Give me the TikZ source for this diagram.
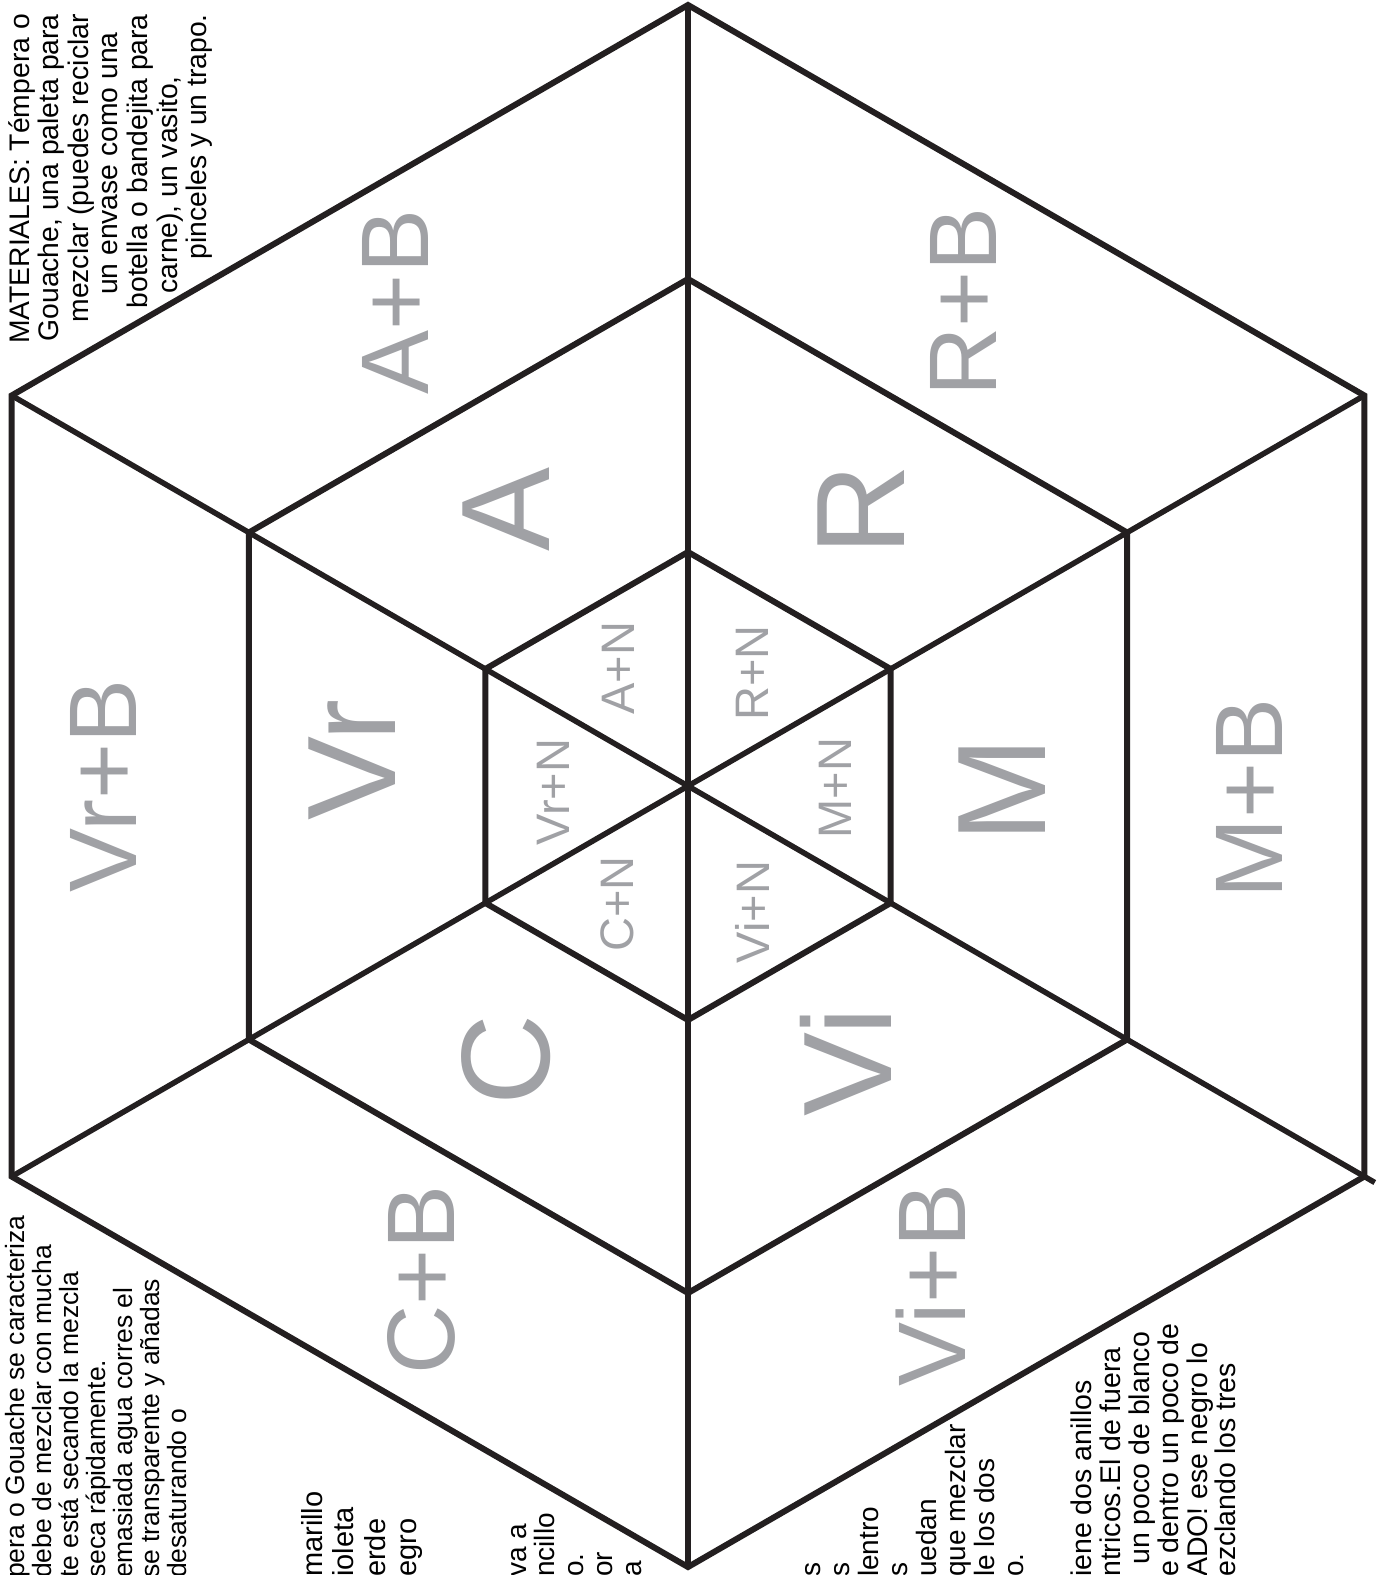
\documentclass[tikz,border=0pt]{standalone}
\usepackage{fontspec}
\setmainfont{Liberation Sans}

\definecolor{ink}{RGB}{35,31,32}
\definecolor{mixgray}{RGB}{160,161,165}

\begin{document}
\begin{tikzpicture}[x=1pt,y=-1pt,
  ring/.style={draw=ink,line width=6pt,line join=miter},
  spoke/.style={draw=ink,line width=5.5pt},
  mixbig/.style={rotate=90,inner sep=0pt,text=mixgray,font=\fontsize{96}{96}\selectfont},
  mixmain/.style={rotate=90,inner sep=0pt,text=mixgray,font=\fontsize{126}{126}\selectfont},
  mixdark/.style={rotate=90,inner sep=0pt,text=mixgray,font=\fontsize{47}{47}\selectfont},
  note/.style={rotate=90,inner sep=0pt,text=black}]
\useasboundingbox (0,0) rectangle (1385,1575);
\clip (0,0) rectangle (1385,1575);
% three hexagons round the same centre
\begin{scope}[shift={(688,786)}]
\foreach \k/\ang in {1/-90,2/-30,3/30,4/90,5/150,6/210} {
  \coordinate (o\k) at (\ang:781);
  \coordinate (m\k) at (\ang:507);
  \coordinate (i\k) at (\ang:234);
}
\end{scope}
\draw[ring] (o1) -- (o2) -- (o3) -- (o4) -- (o5) -- (o6) -- cycle;
\draw[ring] (m1) -- (m2) -- (m3) -- (m4) -- (m5) -- (m6) -- cycle;
\draw[ring] (i1) -- (i2) -- (i3) -- (i4) -- (i5) -- (i6) -- cycle;
\draw[spoke] (o1) -- (o4);
\draw[spoke] (o2) -- (o5);
\draw[spoke,shorten >=-12pt] (o6) -- (o3);
% outer ring: colour + white
\node[mixbig] (ab) at (395,302) {A+B};
\node[mixbig] (rb) at (963,302) {R+B};
\node[mixbig] (vrb) at (103,786) {Vr+B};
\node[mixbig] (mb) at (1249,798) {M+B};
\node[mixbig] (cb) at (421,1280) {C+B};
\node[mixbig] (vib) at (931,1285) {Vi+B};
% middle ring: pure colours
\node[mixmain] (a) at (506,509) {A};
\node[mixmain] (r) at (861,510) {R};
\node[mixmain] (vr) at (352,760) {Vr};
\node[mixmain] (m) at (1002,790) {M};
\node[mixmain] (c) at (506,1060) {C};
\node[mixmain] (vi) at (846,1062) {Vi};
% inner hexagon: colour + black
\node[mixdark] (an) at (618,668) {A+N};
\node[mixdark] (rn) at (752,673) {R+N};
\node[mixdark] (vrn) at (553,792) {Vr+N};
\node[mixdark] (mn) at (835,788) {M+N};
\node[mixdark] (cn) at (617,904) {C+N};
\node[mixdark] (vin) at (752,912) {Vi+N};
% notes
\node[note,align=right,anchor=north east,font=\fontsize{28.3}{29.6}\selectfont] (materiales) at (8,14) {MATERIALES: Témpera o\\Gouache, una paleta para\\mezclar (puedes reciclar\\un envase como una\rule{18pt}{0pt}\\botella o bandejita para\\carne), un vasito,\rule{62pt}{0pt}\\pinceles y un trapo.};
\node[note,align=left,anchor=north west,font=\fontsize{26.5}{27}\selectfont] (tempera) at (5,1578) {pera o Gouache se caracteriza\\debe de mezclar con mucha\\te está secando la mezcla\\seca rápidamente.\\emasiada agua corres el\\se transparente y añadas\\desaturando o};
\node[note,align=left,anchor=north west,font=\fontsize{29}{31.5}\selectfont] (colores) at (301,1577) {marillo\\ioleta\\erde\\egro};
\node[note,align=left,anchor=north west,font=\fontsize{28}{28.7}\selectfont] (pasos) at (511,1577) {va a\\ncillo\\o.\\or\\a};
\node[note,align=left,anchor=north west,font=\fontsize{28}{29}\selectfont] (mezclas) at (805,1577) {s\\s\\lentro\\s\\uedan\\que mezclar\\le los dos\\o.};
\node[note,align=left,anchor=north west,font=\fontsize{28.5}{28.8}\selectfont] (anillos) at (1071,1577) {iene dos anillos\\ntricos.El de fuera\\\rule{12pt}{0pt}un poco de blanco\\e dentro un poco de\\ADO! ese negro lo\\ezclando los tres};
\end{tikzpicture}
\end{document}
